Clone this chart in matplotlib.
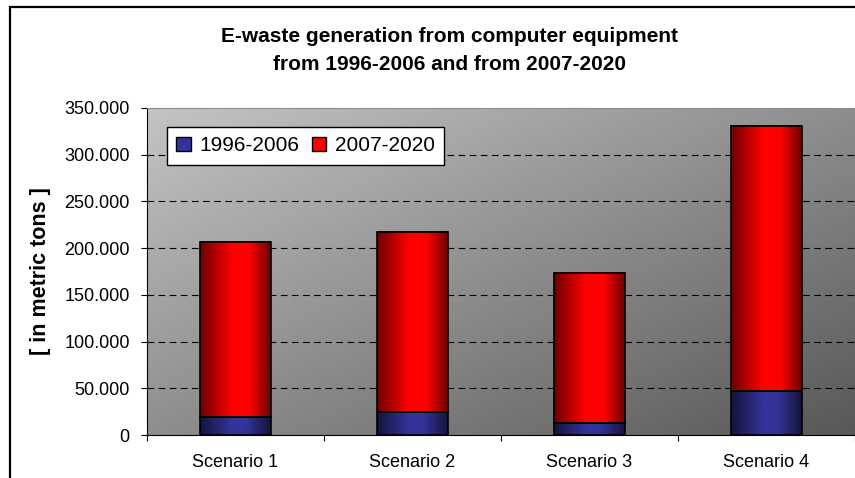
import numpy as np
import matplotlib.pyplot as plt
from matplotlib.colors import LinearSegmentedColormap
from matplotlib.patches import Rectangle, Patch
from matplotlib.ticker import FuncFormatter, FixedLocator

plt.rcParams['font.family'] = ['Liberation Sans', 'DejaVu Sans']

scenarios = ['Scenario 1', 'Scenario 2', 'Scenario 3', 'Scenario 4']
early = [19300, 24300, 12500, 47000]      # 1996-2006
late = [187700, 192700, 161000, 284000]   # 2007-2020
series_names = ['1996-2006', '2007-2020']
yticks = [0, 50000, 100000, 150000, 200000, 250000, 300000, 350000]

blue_cmap = LinearSegmentedColormap.from_list(
    'b', [(0, '#15153d'), (0.45, '#333399'), (0.65, '#333399'), (1, '#15153d')])
red_cmap = LinearSegmentedColormap.from_list(
    'r', [(0, '#6e0000'), (0.45, '#ff0000'), (0.7, '#ff0000'), (1, '#6e0000')])
bg_cmap = LinearSegmentedColormap.from_list('bg', ['#c4c4c4', '#585858'])

fig = plt.figure(figsize=(8.55, 4.78), dpi=100)
ax = fig.add_axes([147 / 855, 43 / 478, 708 / 855, 327 / 478])

# diagonal grey background
gx, gy = np.meshgrid(np.linspace(0, 1, 200), np.linspace(0, 1, 200))
ax.imshow((gx + gy) / 2, cmap=bg_cmap, extent=(0, 1, 0, 1), origin='upper',
          transform=ax.transAxes, aspect='auto', zorder=0)

x = np.arange(len(scenarios))
hgrad = np.linspace(0, 1, 100).reshape(1, -1)


def gradient_bars(bars, cmap):
    for b in bars:
        x0, y0 = b.get_x(), b.get_y()
        ax.imshow(hgrad, cmap=cmap, aspect='auto', zorder=2,
                  extent=(x0, x0 + b.get_width(), y0, y0 + b.get_height()))


b1 = ax.bar(x, early, width=0.4, facecolor='none', edgecolor='black', lw=1.2, zorder=3)
b2 = ax.bar(x, late, bottom=early, width=0.4, facecolor='none', edgecolor='black', lw=1.2, zorder=3)
gradient_bars(b1, blue_cmap)
gradient_bars(b2, red_cmap)

ax.set_xlim(-0.5, len(scenarios) - 0.5)
ax.set_ylim(0, 350000)

for yv in yticks[1:-1]:
    ax.axhline(yv, color='black', lw=0.8, dashes=(6, 4), zorder=1)

ax.set_yticks(yticks)
ax.yaxis.set_major_formatter(FuncFormatter(lambda v, p: f'{int(v):,}'.replace(',', '.')))
ax.tick_params(axis='y', direction='out', length=4.5, width=0.8, pad=8, labelsize=13)
ax.set_xticks(x)
ax.set_xticklabels(scenarios)
ax.tick_params(axis='x', which='major', length=0, pad=14, labelsize=13)
ax.xaxis.set_minor_locator(FixedLocator(np.arange(len(scenarios) + 1) - 0.5))
ax.tick_params(axis='x', which='minor', direction='out', length=4.5, width=0.8)

ax.spines['right'].set_visible(False)
ax.spines['top'].set_color('#8c8c8c')
ax.spines['left'].set_linewidth(0.8)
ax.spines['bottom'].set_linewidth(0.8)

ax.set_ylabel('[ in metric tons ]', fontsize=15.5, fontweight='bold')
ax.yaxis.set_label_coords(-0.136, 0.5)

fig.text(0.526, 1 - 37 / 478, 'E-waste generation from computer equipment',
         ha='center', va='center', fontsize=15, fontweight='bold')
fig.text(0.526, 1 - 65 / 478, 'from 1996-2006 and from 2007-2020',
         ha='center', va='center', fontsize=15, fontweight='bold')

handles = [Patch(facecolor='#333399', edgecolor='black', lw=1),
           Patch(facecolor='#ff0000', edgecolor='black', lw=1)]
leg = ax.legend(handles, series_names, loc='upper left', bbox_to_anchor=(0.028, 0.942),
                ncol=2, fontsize=15, frameon=True, fancybox=False, borderaxespad=0,
                handlelength=0.7, handleheight=0.7, handletextpad=0.4,
                columnspacing=0.6, borderpad=0.45)
leg.get_frame().set_edgecolor('black')
leg.get_frame().set_linewidth(1)
leg.get_frame().set_alpha(1)
leg.set_zorder(5)

# outer chart border
fig.add_artist(Rectangle((10 / 855, -0.1), 1.2, 1.1 - 7 / 478,
                         transform=fig.transFigure, fill=False, lw=1.6, ec='black'))

fig.savefig('out.png', dpi=100)
